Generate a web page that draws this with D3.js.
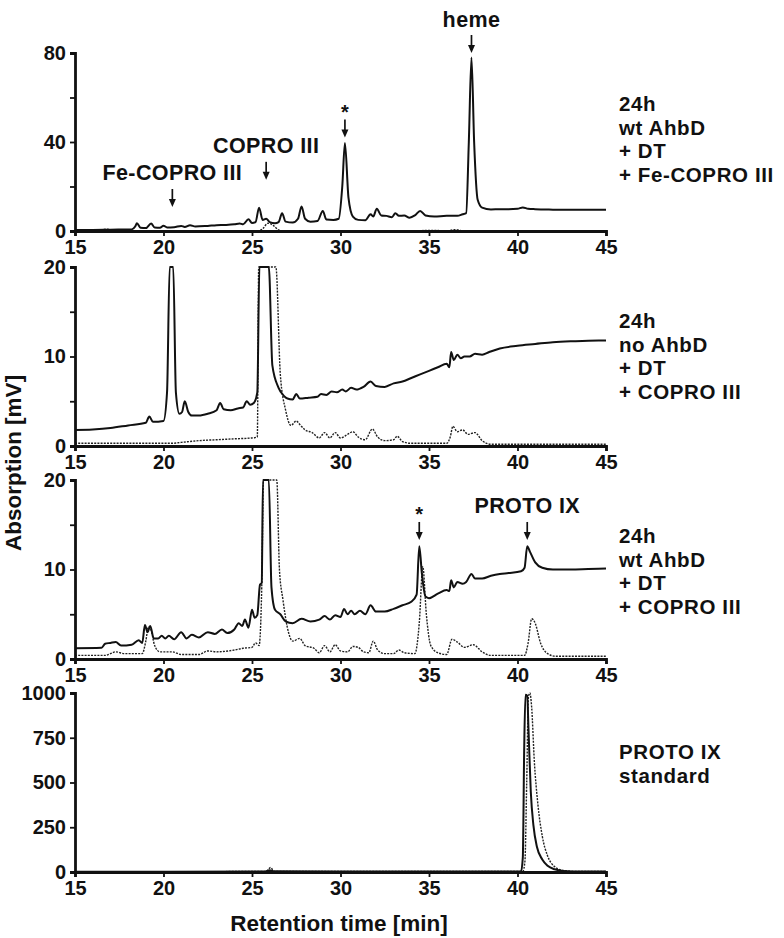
<!DOCTYPE html>
<html>
<head>
<meta charset="utf-8">
<script src="https://cdn.jsdelivr.net/npm/d3@7"></script>
<style>
  html, body { margin: 0; padding: 0; background: #fff; }
  svg { display: block; }
  text { font-family: "Liberation Sans", Arial, Helvetica, sans-serif; font-weight: bold; fill: #111; }
</style>
</head>
<body>
<svg id="chart" width="784" height="938"></svg>
<script>
// ---------------- DATA ----------------
const xTicks = [15, 20, 25, 30, 35, 40, 45];

// Panel 1: 24h wt AhbD + DT + Fe-COPRO III
const p1Solid = [[15,0.5],[16,0.5],[17,0.6],[18.2,0.7],[18.4,2.0],[18.5,3.5],[18.7,1.5],[19,1.3],[19.3,3.4],[19.5,1.6],[19.8,1.5],[20.0,2.4],[20.2,1.6],[20.6,1.7],[21.0,2.3],[21.2,1.8],[21.5,2.6],[21.8,2.0],[22.5,2.3],[23,2.6],[23.5,2.7],[24,3.0],[24.3,3.4],[24.5,3.0],[24.8,5.3],[25.0,3.6],[25.2,4.0],[25.4,10.5],[25.6,5.0],[25.8,5.5],[26.0,4.0],[26.3,3.5],[26.5,4.0],[26.7,8.0],[26.9,4.2],[27.3,3.8],[27.6,5.5],[27.8,11.0],[28.0,5.5],[28.3,4.2],[28.7,4.5],[29.0,9.0],[29.2,5.2],[29.6,5.0],[29.9,5.5],[30.1,20],[30.25,39.5],[30.45,15],[30.7,6.5],[31.0,5.0],[31.4,4.8],[31.7,7.5],[31.85,6.5],[32.05,10.0],[32.3,7.0],[32.6,6.8],[32.9,6.2],[33.1,8.0],[33.3,6.8],[33.6,7.0],[33.9,6.0],[34.2,7.0],[34.5,9.0],[34.8,7.0],[35.3,6.5],[36,6.8],[36.6,6.8],[36.9,7.5],[37.1,8.0],[37.25,40],[37.4,78],[37.55,40],[37.75,14],[38.0,10.5],[38.5,9.7],[39,9.8],[39.5,9.8],[40,10.0],[40.3,10.6],[40.6,10.0],[41,9.8],[42,9.6],[43,9.5],[45,9.5]];
const p1Dashed = [[15,0],[16.3,0.3],[16.8,0.8],[17.2,0.3],[18,0],[25.3,0],[25.6,1.0],[25.9,3.5],[26.2,2.5],[26.5,0.5],[26.8,0],[34,0],[35,0.3],[36,0.1],[36.5,0.6],[37,0],[45,0]];

// Panel 2: 24h no AhbD + DT + COPRO III (off-scale peaks exceed 20 mV)
const p2Solid = [[15,1.8],[16,1.85],[17,2.0],[18,2.3],[19,2.6],[19.2,3.3],[19.4,2.7],[20.0,2.8],[20.2,6],[20.35,30],[20.55,30],[20.7,6],[20.9,3.6],[21.05,3.8],[21.2,5.0],[21.4,3.8],[21.6,3.4],[22,3.4],[22.5,3.6],[23,4.0],[23.2,4.8],[23.4,4.1],[23.8,4.0],[24.2,4.2],[24.5,4.3],[24.7,5.0],[24.9,4.6],[25.1,4.8],[25.3,6.0],[25.42,30],[25.95,30],[26.15,9],[26.5,6.5],[26.8,5.6],[27.0,5.3],[27.3,5.2],[27.5,5.8],[27.7,5.3],[28.2,5.4],[28.7,5.5],[28.9,5.8],[29.2,5.7],[29.5,6.1],[29.8,6.0],[30.1,6.3],[30.3,6.1],[30.6,6.5],[30.9,6.3],[31.3,6.6],[31.7,7.2],[32,6.7],[32.5,6.6],[33,7.0],[33.5,7.2],[34,7.6],[34.5,8.0],[35,8.4],[35.5,8.8],[36,9.2],[36.15,8.8],[36.25,10.5],[36.4,9.6],[36.6,10.2],[36.8,9.8],[37,10.0],[37.3,10.0],[37.6,10.3],[38,10.2],[38.4,10.5],[39,10.9],[40,11.2],[41,11.4],[42,11.6],[43,11.7],[44,11.75],[45,11.8]];
const p2Dashed = [[15,0.3],[17,0.3],[19,0.3],[20.5,0.3],[21,0.4],[22,0.6],[23,0.7],[24,0.8],[25,0.9],[25.3,1.0],[25.38,30],[26.35,30],[26.6,8],[26.9,4.0],[27.2,2.3],[27.5,2.8],[27.7,2.4],[28,1.8],[28.4,1.5],[28.8,0.9],[29.1,1.5],[29.4,0.9],[29.7,1.5],[30,0.9],[30.4,1.3],[30.7,1.6],[31,1.0],[31.4,0.7],[31.8,1.9],[32.1,1.0],[32.5,0.6],[33,0.7],[33.2,1.1],[33.5,0.5],[34,0.3],[36,0.3],[36.2,1.0],[36.35,2.2],[36.6,1.6],[36.9,1.8],[37.2,1.3],[37.6,1.5],[38,0.6],[38.5,0.2],[45,0.2]];

// Panel 3: 24h wt AhbD + DT + COPRO III
const p3Solid = [[15,1.2],[16.5,1.25],[16.7,1.7],[17.0,1.8],[17.3,1.9],[17.6,1.5],[18.2,1.6],[18.6,2.1],[18.8,1.8],[18.95,3.8],[19.1,3.0],[19.25,3.7],[19.45,2.3],[19.7,2.3],[19.9,2.6],[20.1,2.3],[20.3,2.6],[20.6,2.2],[21.0,3.0],[21.3,2.3],[21.6,2.7],[22.0,2.4],[22.5,3.0],[22.9,2.8],[23.3,3.3],[23.6,2.9],[24.0,3.3],[24.25,4.0],[24.45,3.7],[24.6,4.4],[24.8,3.5],[25.0,5.5],[25.15,4.6],[25.3,4.9],[25.45,8.3],[25.55,8.5],[25.62,30],[25.95,30],[26.1,8],[26.3,5.5],[26.6,5.0],[26.9,4.2],[27.3,4.0],[27.8,4.5],[28.3,4.2],[28.8,4.4],[29.1,4.8],[29.4,4.4],[29.7,4.9],[30.0,4.7],[30.2,5.6],[30.4,5.0],[30.6,5.4],[30.8,5.0],[31.1,5.4],[31.4,5.0],[31.7,6.0],[32.0,5.3],[32.5,5.3],[33.0,5.6],[33.5,6.0],[34.0,6.4],[34.3,7.2],[34.45,12.6],[34.6,9.5],[34.8,7.0],[35.0,6.8],[35.5,7.3],[36.0,7.7],[36.15,7.6],[36.25,8.8],[36.4,8.0],[36.6,8.6],[36.9,8.4],[37.1,8.6],[37.4,9.5],[37.6,9.0],[38,9.0],[38.5,9.3],[39,9.5],[39.5,9.6],[40.2,9.8],[40.4,10.2],[40.55,12.6],[40.7,12.0],[41,10.8],[41.4,10.2],[42,10.0],[43,10.0],[44,10.05],[45,10.1]];
const p3Dashed = [[15,0.4],[16.7,0.4],[17.0,0.6],[17.3,0.8],[17.8,0.6],[18.8,0.6],[19.0,2.0],[19.15,3.6],[19.3,3.2],[19.5,1.5],[19.8,0.8],[20.5,0.8],[21,0.5],[22,0.5],[22.5,0.9],[23,0.8],[24,1.0],[24.5,1.2],[25,1.3],[25.2,1.8],[25.4,1.5],[25.55,8],[25.65,30],[26.4,30],[26.55,10],[26.75,6.6],[27.0,3.5],[27.3,2.0],[27.7,2.3],[28.0,1.5],[28.5,1.2],[28.8,0.7],[29.1,1.5],[29.4,0.8],[29.7,1.6],[30.0,0.9],[30.4,0.8],[30.7,1.4],[31.0,1.3],[31.3,0.8],[31.6,0.7],[31.85,2.0],[32.1,1.0],[32.5,0.6],[33.0,0.6],[33.3,1.0],[33.6,0.7],[34.2,0.6],[34.45,4.0],[34.65,10.3],[34.85,5],[35.1,1.5],[35.5,0.7],[36.0,0.5],[36.3,2.2],[36.6,1.9],[37.0,1.3],[37.5,1.6],[38.0,0.8],[38.5,0.4],[40.4,0.4],[40.6,1.8],[40.8,4.5],[41.0,4.0],[41.3,1.8],[41.7,0.6],[42.2,0.3],[45,0.3]];

// Panel 4: PROTO IX standard
const p4Solid = [[15,2],[20,2],[25.7,3],[26,10],[26.2,4],[30,3],[35,3],[40.2,3],[40.3,80],[40.38,700],[40.45,990],[40.55,985],[40.62,800],[40.75,450],[40.9,260],[41.1,140],[41.4,70],[41.7,35],[42.1,15],[42.6,6],[43.5,3],[45,3]];
const p4Dashed = [[20.6,2],[25.8,3],[26.05,25],[26.25,3],[35,3],[40.3,3],[40.42,60],[40.52,500],[40.62,980],[40.7,1005],[40.8,920],[40.95,620],[41.15,380],[41.4,200],[41.7,90],[42.1,30],[42.6,8],[43.5,3],[45,3]];

const p1YTicks = [0, 20, 40, 60, 80], p1YLabels = [0, 40, 80];
const p2YTicks = [0, 5, 10, 15, 20], p2YLabels = [0, 10, 20];
const p3YTicks = [0, 5, 10, 15, 20], p3YLabels = [0, 10, 20];
const p4YTicks = [0, 250, 500, 750, 1000], p4YLabels = [0, 250, 500, 750, 1000];

const p1Label = ["24h", "wt AhbD", "+ DT", "+ Fe-COPRO III"];
const p2Label = ["24h", "no AhbD", "+ DT", "+ COPRO III"];
const p3Label = ["24h", "wt AhbD", "+ DT", "+ COPRO III"];
const p4Label = ["PROTO IX", "standard"];

// annotations: [label, time, value at arrow tip]
const p1Notes = [["Fe-COPRO III", 20.5, 10.8], ["COPRO III", 25.8, 23], ["*", 30.25, 42], ["heme", 37.4, 83.5]];
const p3Notes = [["*", 34.45, 13.3], ["PROTO IX", 40.55, 13.3]];

// ---------------- LAYOUT ----------------
const svg = d3.select("#chart");
const X0 = 75, X1 = 606;
const x = d3.scaleLinear().domain([15, 45]).range([X0, X1]);

const panels = [
  {top: 53,  bottom: 231, max: 80,   ticks: p1YTicks, labels: p1YLabels, solid: p1Solid, dashed: p1Dashed, text: p1Label, textTop: 104, notes: p1Notes},
  {top: 267, bottom: 446, max: 20,   ticks: p2YTicks, labels: p2YLabels, solid: p2Solid, dashed: p2Dashed, text: p2Label, textTop: 321, notes: []},
  {top: 480, bottom: 659, max: 20,   ticks: p3YTicks, labels: p3YLabels, solid: p3Solid, dashed: p3Dashed, text: p3Label, textTop: 536, notes: p3Notes},
  {top: 693, bottom: 872, max: 1000, ticks: p4YTicks, labels: p4YLabels, solid: p4Solid, dashed: p4Dashed, text: p4Label, textTop: 752, notes: []}
];

panels.forEach((p, i) => {
  const y = d3.scaleLinear().domain([0, p.max]).range([p.bottom, p.top]).clamp(true);
  const g = svg.append("g");

  const line = d3.line().x(d => x(d[0])).y(d => y(d[1])).curve(d3.curveMonotoneX);

  g.append("path").datum(p.dashed).attr("d", line)
    .attr("fill", "none").attr("stroke", "#222").attr("stroke-width", 1.4)
    .attr("stroke-dasharray", "2,1.2");
  g.append("path").datum(p.solid).attr("d", line)
    .attr("fill", "none").attr("stroke", "#111").attr("stroke-width", 2.0)
    .attr("stroke-linejoin", "round");

  // x axis
  const xa = g.append("g").attr("transform", `translate(0,${p.bottom})`)
    .call(d3.axisBottom(x).tickValues(xTicks).tickSize(5).tickPadding(4).tickFormat(d3.format("d")));
  xa.select(".domain").attr("stroke", "#111").attr("stroke-width", 2.8);
  xa.selectAll(".tick line").attr("stroke", "#111").attr("stroke-width", 1.8);
  xa.selectAll(".tick text").attr("font-size", 20).attr("font-family", null).style("fill", "#111");

  // y axis
  const ya = g.append("g").attr("transform", `translate(${X0},0)`)
    .call(d3.axisLeft(y).tickValues(p.ticks).tickSize(5).tickPadding(4)
      .tickFormat(d => p.labels.includes(d) ? d : ""));
  ya.select(".domain").attr("stroke", "#111").attr("stroke-width", 2.8);
  ya.selectAll(".tick line").attr("stroke", "#111").attr("stroke-width", 1.8);
  ya.selectAll(".tick text").attr("font-size", 20).attr("font-family", null).style("fill", "#111");

  // right-hand label
  p.text.forEach((t, k) => {
    g.append("text").attr("x", 619).attr("y", p.textTop + k * 23.5)
      .attr("dy", "0.35em").attr("font-size", 20.5).attr("letter-spacing", 0.6).text(t);
  });

  // annotations with arrows
  p.notes.forEach(n => {
    const ax = x(n[1]), tip = y(n[2]);
    const len = 18;
    g.append("line").attr("x1", ax).attr("x2", ax).attr("y1", tip - len).attr("y2", tip - 3)
      .attr("stroke", "#111").attr("stroke-width", 1.7);
    g.append("path").attr("d", `M${ax - 3.5},${tip - 8} L${ax},${tip} L${ax + 3.5},${tip - 8} Z`).attr("fill", "#111");
    const isStar = n[0] === "*";
    g.append("text").attr("x", ax).attr("y", tip - len - (isStar ? 12 : 16))
      .attr("text-anchor", "middle").attr("font-size", isStar ? 20 : 21.5)
      .attr("letter-spacing", isStar ? 0 : 0.4)
      .attr("dy", isStar ? "0.55em" : "0.35em").text(n[0]);
  });
});

// axis titles
svg.append("text").attr("x", 339).attr("y", 923).attr("dy", "0.35em")
  .attr("text-anchor", "middle").attr("font-size", 22.5).text("Retention time [min]");
svg.append("text").attr("transform", "translate(13,463) rotate(-90)").attr("dy", "0.35em")
  .attr("text-anchor", "middle").attr("font-size", 22.5).text("Absorption [mV]");
</script>
</body>
</html>
